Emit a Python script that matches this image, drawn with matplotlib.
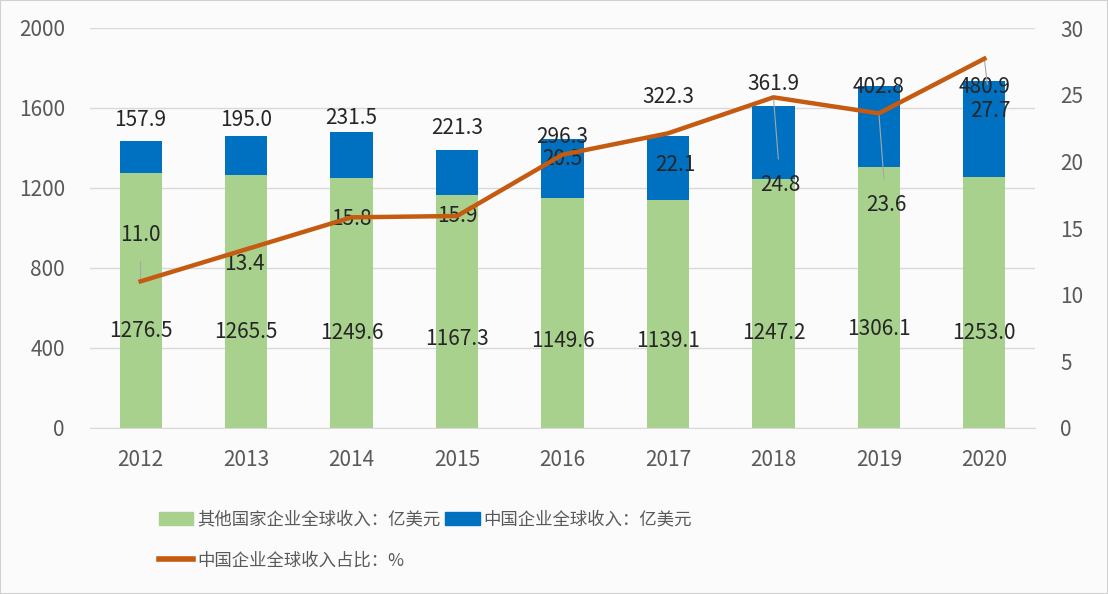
import numpy as np
import matplotlib
matplotlib.use("Agg")
import matplotlib.pyplot as plt
from matplotlib.patches import Patch
from matplotlib.lines import Line2D

plt.rcParams['font.family'] = ['Noto Sans CJK SC', 'DejaVu Sans']

# --- data ---
years = ['2012', '2013', '2014', '2015', '2016', '2017', '2018', '2019', '2020']
other_rev = [1276.5, 1265.5, 1249.6, 1167.3, 1149.6, 1139.1, 1247.2, 1306.1, 1253.0]
china_rev = [157.9, 195.0, 231.5, 221.3, 296.3, 322.3, 361.9, 402.8, 480.9]
china_share = [11.0, 13.4, 15.8, 15.9, 20.5, 22.1, 24.8, 23.6, 27.7]

# label layout (Excel-ish placements)
china_lbl_y = [1540, 1540, 1550, 1500, 1455, 1655, 1720, 1705, 1705]
share_lbl_off = [(0, 46), (-2, -15), (0, -2), (0, 0), (0, -4), (7, -32), (7, -88), (7, -92), (6, -52)]
leader = [True, False, False, False, False, False, True, True, True]

green = '#a9d18e'
blue = '#0070c0'
orange = '#c55a11'
txt = '#595959'
fs = 15

fig = plt.figure(figsize=(11.08, 5.94), dpi=100, facecolor='#fbfbfb')
ax = fig.add_axes([90 / 1108, 1 - 428 / 594, 945 / 1108, 400 / 594])
ax.set_facecolor('#fbfbfb')
x = np.arange(len(years))

ax.bar(x, other_rev, width=0.4, color=green, zorder=2)
ax.bar(x, china_rev, width=0.4, bottom=other_rev, color=blue, zorder=2)
ax.set_ylim(0, 2000)
ax.set_xlim(-0.48, len(years) - 0.52)
ax.set_yticks(np.arange(0, 2001, 400))
ax.grid(axis='y', color='#d9d9d9', linewidth=1, zorder=0)
for s in ['top', 'right', 'left']:
    ax.spines[s].set_visible(False)
ax.spines['bottom'].set_color('#d9d9d9')
ax.tick_params(axis='both', length=0, labelsize=fs, colors=txt)
ax.tick_params(axis='y', pad=18)
ax.tick_params(axis='x', pad=15)
ax.set_xticks(x)
ax.set_xticklabels(years)

for i in range(len(years)):
    ax.text(x[i], other_rev[i] * 0.38, f'{other_rev[i]:.1f}', ha='center', va='center',
            fontsize=fs, color='#262626', zorder=3)
    ax.text(x[i], china_lbl_y[i], f'{china_rev[i]:.1f}', ha='center', va='center',
            fontsize=fs, color='#262626', zorder=3)

ax2 = ax.twinx()
ax2.set_ylim(0, 30)
ax2.set_yticks(np.arange(0, 31, 5))
for s in ax2.spines.values():
    s.set_visible(False)
ax2.tick_params(axis='y', length=0, labelsize=fs, colors=txt, pad=18)
ax2.plot(x, china_share, color=orange, linewidth=3.2, zorder=4)

for i in range(len(years)):
    dx, dy = share_lbl_off[i]
    ax2.annotate(f'{china_share[i]:.1f}', xy=(x[i], china_share[i]), xytext=(dx, dy),
                 textcoords='offset pixels', ha='center', va='center', fontsize=fs,
                 color='#262626', zorder=3,
                 arrowprops=dict(arrowstyle='-', color='#a6a6a6', lw=0.8, shrinkA=9, shrinkB=0)
                 if leader[i] else None)

handles = [Patch(color=green), Line2D([], [], color=orange, linewidth=4), Patch(color=blue)]
labels = ['其他国家企业全球收入：亿美元', '中国企业全球收入占比：%', '中国企业全球收入：亿美元']
fig.legend(handles, labels, ncol=2, loc='upper left', bbox_to_anchor=(143 / 1108, 1 - 495 / 594),
           frameon=False, fontsize=12.5, labelcolor=txt, handlelength=2.0, handletextpad=0.2,
           columnspacing=0.3, labelspacing=1.3, handleheight=0.8)

fig.patches.append(plt.Rectangle((0, 0), 1, 1, transform=fig.transFigure, fill=False,
                                 edgecolor='#d0d0d0', linewidth=1.5))

fig.savefig('out.png', dpi=100, facecolor=fig.get_facecolor())
